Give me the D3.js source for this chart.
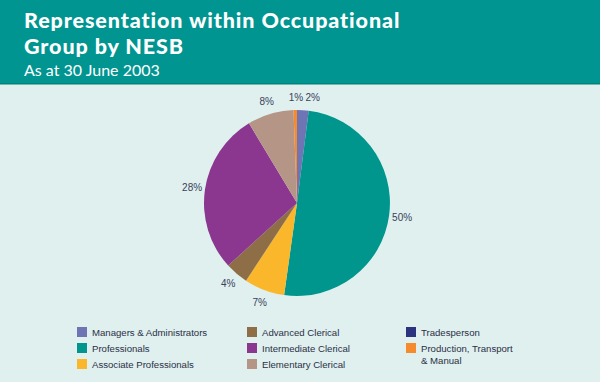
<!DOCTYPE html>
<html><head><meta charset="utf-8">
<script src="https://cdn.jsdelivr.net/npm/d3@7"></script>
<style>body{margin:0;background:#dff0ef;} svg{display:block;}</style>
</head><body>
<svg id="c" width="600" height="382"></svg>
<script>
const categories = ["Managers & Administrators","Professionals","Associate Professionals","Advanced Clerical","Intermediate Clerical","Elementary Clerical","Tradesperson","Production, Transport & Manual"];
const values = [2, 50, 7, 4, 28, 8, 0, 0.6];
const labels = ["2%","50%","7%","4%","28%","8%","","1%"];
const colors = ["#6e74b4","#00968d","#fbb72b","#8e6e46","#8b368f","#b59586","#2c347f","#f68b2e"];
const legendOrder = [[0,1,2],[3,4,5],[6,7]];

const svg = d3.select("#c");
svg.append("rect").attr("width",600).attr("height",382).attr("fill","#dff0ef");
svg.append("rect").attr("width",600).attr("height",84).attr("fill","#009590");
svg.append("rect").attr("y",83).attr("width",600).attr("height",1.5).attr("fill","#00827d");
const tf = "'Lato','Open Sans',sans-serif";
svg.append("text").attr("x",24).attr("y",28).attr("fill","#fff").attr("font-family",tf).attr("font-weight",900).attr("font-size",21.5).attr("letter-spacing",0.9).text("Representation within Occupational");
svg.append("text").attr("x",24).attr("y",54).attr("fill","#fff").attr("font-family",tf).attr("font-weight",900).attr("font-size",21.5).attr("letter-spacing",0.9).text("Group by NESB");
svg.append("text").attr("x",24).attr("y",76).attr("fill","#fff").attr("font-family",tf).attr("font-size",16).text("As at 30 June 2003");

const cx = 297, cy = 203, r = 93;
const pie = d3.pie().sort(null).value(d=>d);
const arcs = pie(values);
const arc = d3.arc().innerRadius(0).outerRadius(r);
const g = svg.append("g").attr("transform",`translate(${cx},${cy})`);
g.selectAll("path").data(arcs).join("path").attr("d",arc).attr("fill",(d,i)=>colors[i]);

const lf = "'Liberation Sans','DejaVu Sans',sans-serif";
const labelArc = d3.arc().innerRadius(r+13).outerRadius(r+13);
const labelOffsets = [[9,0],[0,0],[0,0],[0,0],[0,0],[0,0],[0,0],[1,0]];
g.selectAll("text.l").data(arcs).join("text").attr("class","l")
  .attr("transform",(d,i)=>{const c=labelArc.centroid(d);return `translate(${c[0]+labelOffsets[i][0]},${c[1]+labelOffsets[i][1]})`;})
  .attr("text-anchor","middle").attr("dominant-baseline","central")
  .attr("font-family",lf).attr("font-size",10).attr("fill","#3a3f5a")
  .text((d,i)=>labels[i]);

const colX = [77,247,406];
const rowY = [327,343,359];
const leg = svg.append("g");
legendOrder.forEach((col,ci)=>{
  col.forEach((idx,ri)=>{
    leg.append("rect").attr("x",colX[ci]).attr("y",rowY[ri]).attr("width",10).attr("height",10).attr("fill",colors[idx]);
    const t = leg.append("text").attr("x",colX[ci]+15).attr("y",rowY[ri]+9)
      .attr("font-family",lf).attr("font-size",9.6).attr("fill","#2b2f45");
    if (idx===7) {
      t.append("tspan").attr("x",colX[ci]+15).text("Production, Transport");
      t.append("tspan").attr("x",colX[ci]+15).attr("dy",12).text("& Manual");
    } else t.text(categories[idx]);
  });
});
</script>
</body></html>
